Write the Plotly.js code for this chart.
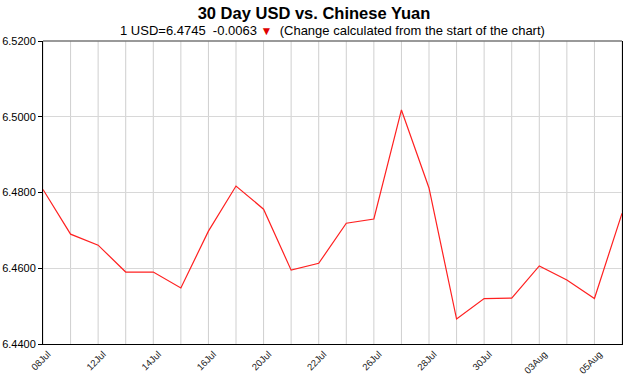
<!DOCTYPE html>
<html>
<head>
<meta charset="utf-8">
<script src="https://cdn.plot.ly/plotly-3.0.1.min.js"></script>
<style>html,body{margin:0;padding:0;background:#fff;}#chart{width:628px;height:375px;}</style>
</head>
<body>
<div id="chart"></div>
<script>
const dates = ["08Jul","09Jul","12Jul","13Jul","14Jul","15Jul","16Jul","19Jul","20Jul","21Jul","22Jul","23Jul","26Jul","27Jul","28Jul","29Jul","30Jul","02Aug","03Aug","04Aug","05Aug","06Aug"];
const rates = [6.4808,6.4690,6.4661,6.4590,6.4590,6.4548,6.4698,6.4817,6.4756,6.4595,6.4613,6.4719,6.4730,6.5018,6.4812,6.4466,6.4520,6.4521,6.4606,6.4569,6.4520,6.4745];
const tickLabels = ["08Jul","12Jul","14Jul","16Jul","20Jul","22Jul","26Jul","28Jul","30Jul","03Aug","05Aug"];
const yTicks = [6.44,6.46,6.48,6.50,6.52];
const yTickText = ["6.4400","6.4600","6.4800","6.5000","6.5200"];

const font = "Liberation Sans, Arial, sans-serif";
const trace = {
  x: dates, y: rates, type: "scatter", mode: "lines",
  line: {color: "#ff2020", width: 1.2}, hoverinfo: "skip"
};
const layout = {
  width: 628, height: 375,
  margin: {l: 43, r: 6, t: 41, b: 31},
  paper_bgcolor: "#fff", plot_bgcolor: "#fff",
  showlegend: false,
  font: {family: font, color: "#000"},
  title: {text: "<b>30 Day USD vs. Chinese Yuan</b>", font: {size: 16.5, family: font, color: "#000"}, x: 0.5, xref: "container", xanchor: "center", y: 0.965, yanchor: "middle"},
  xaxis: {
    type: "category", categoryorder: "array", categoryarray: dates,
    range: [0, dates.length - 1],
    tickmode: "array", tickvals: tickLabels, ticktext: tickLabels,
    tickangle: -45, tickfont: {size: 9.5, family: font, color: "#222"},
    ticklabelshift: 5,
    showgrid: false, showline: true, linecolor: "#000", linewidth: 1,
    ticks: "", zeroline: false
  },
  yaxis: {
    range: [6.44, 6.52], tickmode: "array", tickvals: yTicks, ticktext: yTickText,
    tickfont: {size: 11, family: font, color: "#000"},
    showgrid: true, gridcolor: "#d8d8d8", gridwidth: 1,
    showline: true, linecolor: "#000", linewidth: 1, mirror: true,
    ticks: "outside", ticklen: 4, tickcolor: "#000", zeroline: false
  },
  shapes: [],
  annotations: [{
    xref: "paper", yref: "paper", x: 0.5, y: 1, yanchor: "bottom", yshift: 1,
    showarrow: false,
    text: "1 USD=6.4745  -0.0063 <span style='color:#e00000;font-size:12px'>▼</span>  (Change calculated from the start of the chart)",
    font: {size: 13, family: font, color: "#000"}
  }]
};
dates.forEach(function(d){
  layout.shapes.push({type: "line", xref: "x", yref: "paper", x0: d, x1: d, y0: 0, y1: 1, line: {color: "#cfcfcf", width: 1}, layer: "below"});
});
layout.shapes.push({type: "line", xref: "paper", yref: "paper", x0: 0, x1: 1, y0: 1, y1: 1, line: {color: "#777", width: 1.5}});
Plotly.newPlot("chart", [trace], layout, {staticPlot: true, displayModeBar: false});
</script>
</body>
</html>
